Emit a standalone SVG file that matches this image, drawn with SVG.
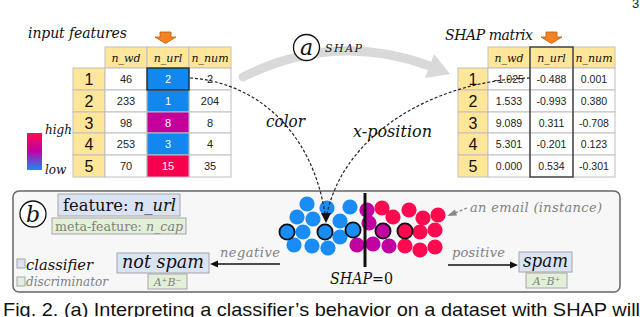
<svg xmlns="http://www.w3.org/2000/svg" width="640" height="317" viewBox="0 0 640 317">
<defs>
<linearGradient id="grad" x1="0" y1="0" x2="0" y2="1">
<stop offset="0" stop-color="#ff0a50"/>
<stop offset="0.5" stop-color="#c000a8"/>
<stop offset="1" stop-color="#1a8cf5"/>
</linearGradient>
<style>
.ser{font-family:"DejaVu Serif","Liberation Serif",serif;font-style:italic}
.up{font-style:normal}
.num{font-family:"Liberation Sans",Arial,sans-serif;font-size:11px;fill:#222;text-anchor:middle}
.rn{font-family:"Liberation Sans",Arial,sans-serif;font-size:16px;fill:#111;text-anchor:middle}
.hdr{font-family:"DejaVu Serif","Liberation Serif",serif;font-style:italic;font-size:11px;fill:#111;text-anchor:middle}
.cell{fill:#fff;stroke:#bfbfbf;stroke-width:1}
.ycell{fill:#ffe699;stroke:#bfbfbf;stroke-width:1}
.gray{fill:#808080}
.dash{fill:none;stroke:#222;stroke-width:1.2;stroke-dasharray:3 2}
.b{fill:#1a8cf5}
.m{fill:#c000a0}
.r{fill:#ff0a50}
.o{stroke:#111;stroke-width:1.8}
.bluebox{fill:#dae3f3;stroke:#a6a6a6;stroke-width:1}
.greenbox{fill:#e2f0d9;stroke:#a6a6a6;stroke-width:1}
.orange{fill:#f58220;stroke:#b85c10;stroke-width:0.8}
</style>
</defs>
<rect x="0" y="0" width="640" height="317" fill="#fff"/>
<text x="632" y="8" font-family="Liberation Sans,Arial,sans-serif" font-size="13" fill="#222">3</text>

<!-- panel b background -->
<g id="panel-b">
<rect x="13" y="191" width="607" height="101" rx="6" fill="#f7f7f7" stroke="#666" stroke-width="1.5"/>
</g>

<!-- input features table -->
<g id="input-table">
<text class="ser" x="28" y="38" font-size="14" fill="#111" textLength="99" lengthAdjust="spacing">input features</text>
<polygon class="orange" points="160,32 171,32 171,37 176,37 165.5,43.5 155,37 160,37"/>
<rect class="ycell" x="105" y="47" width="42" height="21"/>
<rect class="ycell" x="147" y="47" width="42" height="21"/>
<rect class="ycell" x="189" y="47" width="42" height="21"/>
<text class="hdr" x="126" y="62">n_wd</text>
<text class="hdr" x="168" y="62">n_url</text>
<text class="hdr" x="210" y="62">n_num</text>
<rect class="ycell" x="73" y="68" width="32" height="22"/>
<rect class="ycell" x="73" y="90" width="32" height="22"/>
<rect class="ycell" x="73" y="112" width="32" height="21"/>
<rect class="ycell" x="73" y="133" width="32" height="22"/>
<rect class="ycell" x="73" y="155" width="32" height="22"/>
<rect class="cell" x="105" y="68" width="42" height="22"/>
<rect class="cell" x="105" y="90" width="42" height="22"/>
<rect class="cell" x="105" y="112" width="42" height="21"/>
<rect class="cell" x="105" y="133" width="42" height="22"/>
<rect class="cell" x="105" y="155" width="42" height="22"/>
<rect class="cell" x="189" y="68" width="42" height="22"/>
<rect class="cell" x="189" y="90" width="42" height="22"/>
<rect class="cell" x="189" y="112" width="42" height="21"/>
<rect class="cell" x="189" y="133" width="42" height="22"/>
<rect class="cell" x="189" y="155" width="42" height="22"/>
<rect x="147" y="90" width="42" height="22" fill="#1088f0" stroke="#bfbfbf"/>
<rect x="147" y="112" width="42" height="21" fill="#c4009c" stroke="#bfbfbf"/>
<rect x="147" y="133" width="42" height="22" fill="#1088f0" stroke="#bfbfbf"/>
<rect x="147" y="155" width="42" height="22" fill="#f7004e" stroke="#bfbfbf"/>
<rect x="147" y="68" width="42" height="22" fill="#1088f0" stroke="#222" stroke-width="1.3"/>
<text class="rn" x="89" y="85">1</text>
<text class="rn" x="89" y="107">2</text>
<text class="rn" x="89" y="128.5">3</text>
<text class="rn" x="89" y="150">4</text>
<text class="rn" x="89" y="172">5</text>
<text class="num" x="126" y="83">46</text>
<text class="num" x="126" y="105">233</text>
<text class="num" x="126" y="126.5">98</text>
<text class="num" x="126" y="148">253</text>
<text class="num" x="126" y="170">70</text>
<text class="num" x="168" y="83" fill="#fff" style="fill:#fff">2</text>
<text class="num" x="168" y="105" style="fill:#fff">1</text>
<text class="num" x="168" y="126.5" style="fill:#fff">8</text>
<text class="num" x="168" y="148" style="fill:#fff">3</text>
<text class="num" x="168" y="170" style="fill:#fff">15</text>
<text class="num" x="210" y="83">2</text>
<text class="num" x="210" y="105">204</text>
<text class="num" x="210" y="126.5">8</text>
<text class="num" x="210" y="148">4</text>
<text class="num" x="210" y="170">35</text>
</g>

<!-- legend gradient -->
<g id="color-legend">
<rect x="27" y="133" width="15" height="37" fill="url(#grad)"/>
<text class="ser" x="45" y="134" font-size="12" fill="#111">high</text>
<text class="ser" x="45" y="174" font-size="12" fill="#111">low</text>
</g>

<!-- SHAP matrix table -->
<g id="shap-table">
<text class="ser" x="445" y="40" font-size="14" fill="#111" textLength="88" lengthAdjust="spacing">SHAP matrix</text>
<polygon class="orange" points="546,32 557,32 557,37 562,37 551.5,43.5 541,37 546,37"/>
<rect class="ycell" x="488" y="47" width="42" height="21"/>
<rect class="ycell" x="530" y="47" width="43" height="21"/>
<rect class="ycell" x="573" y="47" width="42" height="21"/>
<text class="hdr" x="509" y="62">n_wd</text>
<text class="hdr" x="551.5" y="62">n_url</text>
<text class="hdr" x="594" y="62">n_num</text>
<rect class="ycell" x="458" y="68" width="30" height="22"/>
<rect class="ycell" x="458" y="90" width="30" height="22"/>
<rect class="ycell" x="458" y="112" width="30" height="21"/>
<rect class="ycell" x="458" y="133" width="30" height="22"/>
<rect class="ycell" x="458" y="155" width="30" height="22"/>
<rect class="cell" x="488" y="68" width="42" height="22"/>
<rect class="cell" x="488" y="90" width="42" height="22"/>
<rect class="cell" x="488" y="112" width="42" height="21"/>
<rect class="cell" x="488" y="133" width="42" height="22"/>
<rect class="cell" x="488" y="155" width="42" height="22"/>
<rect class="cell" x="530" y="68" width="43" height="22"/>
<rect class="cell" x="530" y="90" width="43" height="22"/>
<rect class="cell" x="530" y="112" width="43" height="21"/>
<rect class="cell" x="530" y="133" width="43" height="22"/>
<rect class="cell" x="530" y="155" width="43" height="22"/>
<rect class="cell" x="573" y="68" width="42" height="22"/>
<rect class="cell" x="573" y="90" width="42" height="22"/>
<rect class="cell" x="573" y="112" width="42" height="21"/>
<rect class="cell" x="573" y="133" width="42" height="22"/>
<rect class="cell" x="573" y="155" width="42" height="22"/>
<rect x="530" y="47" width="43" height="130" fill="none" stroke="#333" stroke-width="1.3"/>
<text class="rn" x="473" y="85">1</text>
<text class="rn" x="473" y="107">2</text>
<text class="rn" x="473" y="128.5">3</text>
<text class="rn" x="473" y="150">4</text>
<text class="rn" x="473" y="172">5</text>
<text class="num" x="509" y="83" font-size="10.5" style="font-size:10.5px">-1.025</text>
<text class="num" x="509" y="105" style="font-size:10.5px">1.533</text>
<text class="num" x="509" y="126.5" style="font-size:10.5px">9.089</text>
<text class="num" x="509" y="148" style="font-size:10.5px">5.301</text>
<text class="num" x="509" y="170" style="font-size:10.5px">0.000</text>
<text class="num" x="551.5" y="83" style="font-size:10.5px">-0.488</text>
<text class="num" x="551.5" y="105" style="font-size:10.5px">-0.993</text>
<text class="num" x="551.5" y="126.5" style="font-size:10.5px">0.311</text>
<text class="num" x="551.5" y="148" style="font-size:10.5px">-0.201</text>
<text class="num" x="551.5" y="170" style="font-size:10.5px">0.534</text>
<text class="num" x="594" y="83" style="font-size:10.5px">0.001</text>
<text class="num" x="594" y="105" style="font-size:10.5px">0.380</text>
<text class="num" x="594" y="126.5" style="font-size:10.5px">-0.708</text>
<text class="num" x="594" y="148" style="font-size:10.5px">0.123</text>
<text class="num" x="594" y="170" style="font-size:10.5px">-0.301</text>
</g>

<!-- SHAP transform arrow (a) -->
<g id="shap-arrow">
<path d="M243 77 Q 335 31 430 66" fill="none" stroke="#d9d9d9" stroke-width="9" stroke-linecap="round"/>
<polygon points="450,74 425,78 434,54" fill="#d9d9d9"/>
<circle cx="306.5" cy="47.5" r="13" fill="#fff" stroke="#111" stroke-width="1.3"/>
<text class="ser" x="306.5" y="55" font-size="22" fill="#111" text-anchor="middle">a</text>
<text class="ser" x="325" y="52" font-size="11" fill="#111" textLength="37" lengthAdjust="spacing">SHAP</text>
</g>

<!-- dots -->
<g id="dots">
<circle class="b" cx="307" cy="204" r="7.6"/>
<circle class="b" cx="327" cy="208" r="7.6"/>
<circle class="b" cx="350" cy="207" r="7.6"/>
<circle class="b" cx="297" cy="217" r="7.6"/>
<circle class="b" cx="313" cy="219" r="7.6"/>
<circle class="b" cx="340" cy="221" r="7.6"/>
<circle class="b" cx="303" cy="232" r="7.6"/>
<circle class="b" cx="340" cy="237" r="7.6"/>
<circle class="b" cx="294" cy="245" r="7.6"/>
<circle class="b" cx="312" cy="246" r="7.6"/>
<circle class="b" cx="328" cy="248" r="7.6"/>
<circle class="m" cx="367" cy="210" r="7.6"/>
<circle class="m" cx="369" cy="223" r="7.6"/>
<circle class="m" cx="357" cy="245" r="7.6"/>
<circle class="m" cx="373" cy="244" r="7.6"/>
<circle class="m" cx="389" cy="246" r="7.6"/>
<circle class="r" cx="382" cy="208" r="7.6"/>
<circle class="r" cx="393" cy="217" r="7.6"/>
<circle class="r" cx="409" cy="210" r="7.6"/>
<circle class="r" cx="423" cy="218" r="7.6"/>
<circle class="r" cx="438" cy="215" r="7.6"/>
<circle class="r" cx="420" cy="232" r="7.6"/>
<circle class="r" cx="435" cy="230" r="7.6"/>
<circle class="r" cx="405" cy="246" r="7.6"/>
<circle class="r" cx="420" cy="250" r="7.6"/>
<circle class="r" cx="435" cy="247" r="7.6"/>
<circle class="b o" cx="287" cy="232" r="7.6"/>
<circle class="b o" cx="325" cy="232" r="7.6"/>
<circle class="b o" cx="353" cy="230" r="7.6"/>
<circle class="m o" cx="383" cy="231" r="7.6"/>
<circle class="r o" cx="405" cy="231" r="7.6"/>
<line x1="365" y1="193" x2="365" y2="267" stroke="#111" stroke-width="3"/>
</g>

<!-- connectors -->
<g id="connectors">
<path class="dash" d="M190 78 C 255 82, 312 130, 325 214"/>
<path class="dash" d="M530 78 C 440 80, 345 130, 327 214"/>
<polygon points="321,213 331,213 326,223" fill="#111"/>
<path d="M280 264 L 216 264" stroke="#111" stroke-width="1.3" fill="none"/>
<polygon points="210,264 218,260.5 218,267.5" fill="#111"/>
<path d="M448 265 L 512 265" stroke="#111" stroke-width="1.3" fill="none"/>
<polygon points="518,265 510,261.5 510,268.5" fill="#111"/>
<path d="M467 208 L 455 213" stroke="#888" stroke-width="1.2" stroke-dasharray="3 2" fill="none"/>
<polygon points="447,216 455,209.5 457,215.5" fill="#888"/>
</g>

<!-- connector labels -->
<g id="labels">
<text class="ser" x="266" y="127" font-size="16" fill="#111" textLength="39" lengthAdjust="spacingAndGlyphs">color</text>
<text class="ser" x="353" y="137" font-size="16" fill="#111" textLength="79" lengthAdjust="spacingAndGlyphs">x-position</text>
<text class="ser gray" x="220" y="257" font-size="13" textLength="60" lengthAdjust="spacing">negative</text>
<text class="ser gray" x="452" y="257" font-size="13" textLength="53" lengthAdjust="spacing">positive</text>
<text class="ser gray" x="470" y="212" font-size="13" textLength="132" lengthAdjust="spacing">an email (instance)</text>
<text class="ser" x="330" y="284" font-size="17" fill="#111" textLength="63" lengthAdjust="spacingAndGlyphs">SHAP<tspan class="up">=0</tspan></text>
</g>

<g id="label-b">
<circle cx="33" cy="214" r="13" fill="#fff" stroke="#111" stroke-width="1.3"/>
<text class="ser" x="33" y="222" font-size="22" fill="#111" text-anchor="middle">b</text>
</g>

<g id="feature-box">
<rect class="bluebox" x="58" y="194" width="122" height="22"/>
<text class="ser up" x="63" y="211" font-size="17" fill="#111" textLength="113" lengthAdjust="spacingAndGlyphs">feature: <tspan class="ser">n_url</tspan></text>
</g>
<g id="meta-feature-box">
<rect class="greenbox" x="52" y="218" width="134" height="16"/>
<text class="ser up gray" x="55" y="230.5" font-size="12" textLength="128" lengthAdjust="spacingAndGlyphs">meta-feature: <tspan class="ser">n_cap</tspan></text>
</g>

<g id="legend">
<rect class="bluebox" x="17" y="259" width="8" height="9"/>
<text class="ser" x="26" y="270" font-size="15" fill="#111" textLength="67" lengthAdjust="spacingAndGlyphs">classifier</text>
<rect class="greenbox" x="17" y="277" width="8" height="9"/>
<text class="ser gray" x="26" y="286" font-size="12" textLength="82" lengthAdjust="spacingAndGlyphs">discriminator</text>
</g>

<g id="not-spam">
<rect class="bluebox" x="117" y="253" width="92" height="20"/>
<text class="ser" x="163" y="268" font-size="19" fill="#111" text-anchor="middle" textLength="82" lengthAdjust="spacingAndGlyphs">not spam</text>
<rect class="greenbox" x="148" y="274" width="39" height="15"/>
<text class="ser gray" x="167.5" y="285.5" font-size="11" text-anchor="middle">A⁺B⁻</text>
</g>

<g id="spam">
<rect class="bluebox" x="519" y="252" width="53" height="20"/>
<text class="ser" x="545.5" y="267" font-size="19" fill="#111" text-anchor="middle" textLength="45" lengthAdjust="spacingAndGlyphs">spam</text>
<rect class="greenbox" x="526" y="273" width="41" height="15"/>
<text class="ser gray" x="546.5" y="284.5" font-size="11" text-anchor="middle">A⁻B⁺</text>
</g>

<text x="3" y="316" font-family="Liberation Sans,Arial,sans-serif" font-size="19" fill="#111" textLength="637" lengthAdjust="spacingAndGlyphs">Fig. 2. (a) Interpreting a classifier’s behavior on a dataset with SHAP will</text>
</svg>
